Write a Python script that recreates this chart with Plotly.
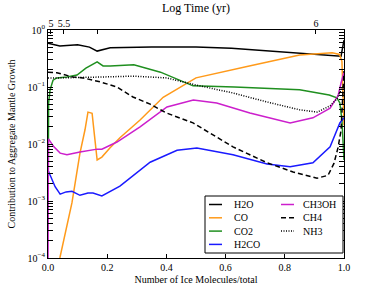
import plotly.graph_objects as go

# ---- data (fraction of ice molecules, log10 contribution) ----
h2o_x = [0.0, 0.04, 0.10, 0.14, 0.166, 0.21, 0.35, 0.50, 0.62, 0.80, 0.97, 0.99, 1.0]
h2o_y = [-0.23, -0.28, -0.26, -0.30, -0.37, -0.31, -0.30, -0.30, -0.32, -0.39, -0.45, -0.46, -0.18]

co_x = [0.04, 0.061, 0.081, 0.108, 0.125, 0.135, 0.149, 0.157, 0.166, 0.182, 0.209, 0.243, 0.311, 0.389, 0.50, 0.68, 0.85, 0.96, 0.985, 0.993, 0.997, 1.0]
co_y = [-4.0, -3.51, -3.03, -2.16, -1.75, -1.44, -1.46, -1.85, -2.28, -2.23, -2.07, -1.89, -1.58, -1.18, -0.84, -0.63, -0.44, -0.40, -0.43, -0.55, -1.23, -1.67]

co2_x = [0.0, 0.002, 0.007, 0.017, 0.03, 0.064, 0.098, 0.128, 0.166, 0.186, 0.21, 0.29, 0.38, 0.49, 0.63, 0.85, 0.95, 0.976, 0.986, 0.993, 1.0]
co2_y = [-3.5, -1.28, -1.05, -0.88, -0.84, -0.825, -0.79, -0.67, -0.56, -0.63, -0.63, -0.61, -0.74, -0.98, -1.00, -1.05, -1.14, -1.19, -1.28, -1.58, -2.28]

h2co_x = [0.0, 0.014, 0.024, 0.041, 0.061, 0.081, 0.108, 0.135, 0.152, 0.182, 0.243, 0.345, 0.436, 0.503, 0.625, 0.74, 0.818, 0.895, 0.953, 0.986, 1.0]
h2co_y = [-2.46, -2.63, -2.75, -2.88, -2.84, -2.83, -2.90, -2.86, -2.86, -2.91, -2.74, -2.32, -2.11, -2.07, -2.19, -2.35, -2.40, -2.33, -2.05, -1.63, -1.54]

ch3oh_x = [0.0, 0.0015, 0.02, 0.041, 0.064, 0.108, 0.166, 0.182, 0.233, 0.311, 0.402, 0.491, 0.57, 0.682, 0.818, 0.895, 0.953, 0.98, 0.99, 1.0]
ch3oh_y = [-4.2, -1.91, -2.05, -2.16, -2.19, -2.14, -2.09, -2.09, -1.965, -1.70, -1.35, -1.23, -1.28, -1.456, -1.63, -1.54, -1.37, -1.15, -0.93, -0.74]

ch4_x = [0.0, 0.03, 0.084, 0.118, 0.176, 0.233, 0.287, 0.345, 0.40, 0.49, 0.625, 0.74, 0.828, 0.909, 0.946, 0.966, 0.98, 0.99, 1.0]
ch4_y = [-0.74, -0.75, -0.825, -0.84, -0.91, -1.00, -1.175, -1.30, -1.456, -1.63, -2.05, -2.33, -2.49, -2.60, -2.55, -2.34, -2.06, -1.76, -0.72]

nh3_x = [0.0, 0.04, 0.176, 0.287, 0.40, 0.50, 0.625, 0.74, 0.85, 0.91, 0.953, 0.976, 0.99, 1.0]
nh3_y = [-0.84, -0.84, -0.825, -0.81, -0.84, -0.965, -1.105, -1.263, -1.40, -1.44, -1.33, -1.21, -1.05, -0.97]

# top axis (Log Time) ticks
top_tick_vals = [0.01, 0.054, 0.166, 0.905]
top_tick_text = ["5", "5.5", "", "6"]

x_ticks = [0.0, 0.2, 0.4, 0.6, 0.8, 1.0]
y_decades = [-4, -3, -2, -1, 0]

# name, x, y, colour, dash, legend column, legend row
series = [
    ("H2O", h2o_x, h2o_y, "black", "solid", 0, 0),
    ("CO", co_x, co_y, "#ff9a1a", "solid", 0, 1),
    ("CO2", co2_x, co2_y, "#1f8f1f", "solid", 0, 2),
    ("H2CO", h2co_x, h2co_y, "#1a1aff", "solid", 0, 3),
    ("CH3OH", ch3oh_x, ch3oh_y, "#cc1fcc", "solid", 1, 0),
    ("CH4", ch4_x, ch4_y, "black", "5px,3px", 1, 1),
    ("NH3", nh3_x, nh3_y, "black", "1px,1.5px", 1, 2),
]

FAM = "Liberation Serif"

fig = go.Figure()
for name, xs, ys, col, dash, c, r in series:
    fig.add_trace(go.Scatter(
        x=xs, y=[10 ** v for v in ys], mode="lines", name=name,
        line=dict(color=col, width=1.5, dash=dash), showlegend=False,
    ))

# invisible trace for top axis
fig.add_trace(go.Scatter(x=[0, 1], y=[1e-5, 1e-5], xaxis="x2", mode="lines",
                         line=dict(width=0), showlegend=False, hoverinfo="skip"))

minor_vals = [m * 10 ** d for d in range(-4, 0) for m in range(2, 10)]

# ---- manual legend (pixel layout converted to paper coords) ----
PL, PW, PB, PH = 48, 296, 258, 228
def px(x):
    return (x - PL) / PW
def py(y):
    return (PB - y) / PH

shapes = [dict(type="rect", xref="paper", yref="paper", x0=px(205), x1=px(343),
               y0=py(253), y1=py(196), line=dict(color="black", width=1),
               fillcolor="white", layer="above")]
annotations = []
col_line = [(209, 222), (281, 294)]
col_text = [232, 301]
row_y = [204.5, 217.8, 231.1, 244.4]
for name, xs, ys, col, dash, c, r in series:
    shapes.append(dict(type="line", xref="paper", yref="paper",
                       x0=px(col_line[c][0]), x1=px(col_line[c][1]), y0=py(row_y[r]), y1=py(row_y[r]),
                       line=dict(color=col, width=1.5, dash=dash), layer="above"))
    annotations.append(dict(text=name, xref="paper", yref="paper", x=px(col_text[c]), y=py(row_y[r]),
                            xanchor="left", yanchor="middle", showarrow=False,
                            font=dict(family=FAM, size=10, color="black")))

fig.update_layout(
    width=382, height=287,
    margin=dict(l=48, r=38, t=30, b=29, autoexpand=False),
    paper_bgcolor="white", plot_bgcolor="white",
    font=dict(family=FAM, size=10, color="black"),
    showlegend=False,
    hovermode=False,
    shapes=shapes,
    annotations=annotations,
    xaxis=dict(
        range=[0, 1], tickvals=x_ticks, ticktext=[f"{v:.1f}" for v in x_ticks],
        ticks="inside", ticklen=4, tickcolor="black",
        showline=True, linecolor="black", linewidth=1, mirror=True,
        showgrid=False, zeroline=False, automargin=False,
        title=dict(text="Number of Ice Molecules/total", standoff=3, font=dict(family=FAM, size=10)),
        tickfont=dict(family=FAM, size=10),
    ),
    xaxis2=dict(
        overlaying="x", side="top", range=[0, 1],
        tickvals=top_tick_vals, ticktext=top_tick_text,
        ticks="inside", ticklen=4, tickcolor="black",
        showgrid=False, zeroline=False, showline=False, automargin=False,
        title=dict(text="Log Time (yr)", standoff=2, font=dict(family=FAM, size=12)),
        tickfont=dict(family=FAM, size=10),
    ),
    yaxis=dict(
        type="log", range=[-4, 0],
        tickvals=[10 ** d for d in y_decades],
        ticktext=[f"10<sup>{'−' + str(-d) if d < 0 else '0'}</sup>" for d in y_decades],
        ticks="inside", ticklen=5, tickcolor="black",
        minor=dict(tickvals=minor_vals, ticks="inside", ticklen=3, tickcolor="black", showgrid=False),
        showline=True, linecolor="black", linewidth=1, mirror="allticks",
        showgrid=False, zeroline=False, automargin=False,
        title=dict(text="Contribution to Aggregate Mantle Growth", standoff=10, font=dict(family=FAM, size=10)),
        tickfont=dict(family=FAM, size=10),
    ),
)

fig.write_html("out.html", config={"displayModeBar": False},
               post_script="document.body.style.margin='0';document.body.style.overflow='hidden';")
